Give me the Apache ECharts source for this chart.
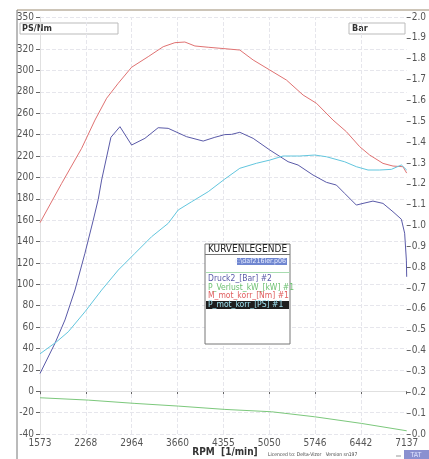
<!DOCTYPE html>
<html><head><meta charset="utf-8">
<script src="https://cdn.jsdelivr.net/npm/echarts@6/dist/echarts.min.js"></script>
<style>html,body{margin:0;padding:0;background:#fff}#c{width:429px;height:459px}</style>
</head><body><div id="c"></div>
<script>
// X tick labels (RPM)
const rpmTicks = [1573, 2268, 2964, 3660, 4355, 5050, 5746, 6442, 7137];
const leftTicks = [-40,-20,0,20,40,60,80,100,120,140,160,180,200,220,240,260,280,300,320,350];

// M_mot_korr [Nm] #1 (left axis)
const rpmNm = [1573,1902,2205,2407,2584,2760,2963,3215,3442,3620,3771,3923,4125,4352,4605,4807,5060,5313,5565,5768,6019,6222,6424,6575,6777,6929,7080,7137];
const valNm = [157.6,194.4,227.2,253.6,274,288,303,312.9,322.2,326,326.6,322.9,321.7,320.5,319.1,309.8,300.4,291,277,269.3,253.6,242.7,228.7,220.9,213.1,210.6,210,204];

// Druck2 [Bar] #2 (right axis)
const rpmBar = [1573,1800,1952,2104,2255,2381,2457,2508,2649,2786,2963,3165,3366,3518,3797,4049,4226,4378,4479,4605,4807,5060,5337,5489,5716,5919,6070,6196,6373,6474,6625,6777,6929,7056,7106,7132,7137];
const valBar = [0.29,0.435,0.547,0.691,0.867,1.026,1.126,1.218,1.423,1.474,1.386,1.418,1.469,1.466,1.426,1.405,1.423,1.436,1.437,1.447,1.418,1.362,1.306,1.29,1.242,1.207,1.194,1.154,1.098,1.106,1.117,1.106,1.066,1.03,0.963,0.834,0.754];

// P_mot_korr [PS] #1 (left axis)
const rpmPS = [1573,1826,2002,2255,2508,2760,3013,3266,3518,3670,3873,4125,4378,4605,4858,5060,5262,5515,5742,5919,6196,6373,6550,6727,6904,7056,7137];
const valPS = [35,46.3,55.6,74.3,94.6,113.3,128.9,144.5,157,169.5,177.2,186.6,198.5,208.5,213.2,216.2,220,220,220.9,219.3,214.6,210,206.9,206.9,207.5,211.6,206.9];

// P_Verlust_kW [kW] #1 (left axis)
const rpmKW = [1573,2305,3013,3670,4378,5086,5742,6450,7137];
const valKW = [-6.1,-8.3,-11.4,-13.9,-17,-19.2,-23.9,-30.1,-37];

const pair = (xs, ys) => xs.map((x, i) => [x, ys[i]]);
const FONT = "'Liberation Sans Narrow', 'DejaVu Sans Condensed', 'Liberation Sans', sans-serif";
const LBL = {color:'#555', fontFamily:FONT, fontSize:10};

const chart = echarts.init(document.getElementById('c'), null, {renderer:'canvas'});
const gridStyle = {color:'#e6e6ec', width:1, type:'dashed'};
chart.setOption({
  animation:false,
  backgroundColor:'#fff',
  grid:{left:40, right:22, top:17, bottom:25},
  xAxis:{type:'value', min:1573, max:7137,
    axisLine:{show:true, lineStyle:{color:'#e0e0e0'}},
    axisTick:{show:true, length:3, customValues:rpmTicks, lineStyle:{color:'#666'}},
    axisLabel:Object.assign({customValues:rpmTicks, margin:4, formatter:v=>String(v)}, LBL),
    splitLine:{show:false}
  },
  yAxis:[
    {type:'value', min:-40, max:350, interval:20, position:'left',
      axisLine:{show:true, lineStyle:{color:'#e0e0e0'}},
      axisTick:{show:true, length:4, customValues:leftTicks, lineStyle:{color:'#666'}},
      axisLabel:Object.assign({customValues:leftTicks, margin:6, formatter:v=>String(v)}, LBL),
      splitLine:{show:true, lineStyle:gridStyle}},
    {type:'value', min:0, max:2, interval:0.1, position:'right',
      axisLine:{show:false},
      axisTick:{show:true, length:4, lineStyle:{color:'#666'}},
      axisLabel:Object.assign({margin:5, formatter:v=>v.toFixed(1)}, LBL),
      splitLine:{show:false}}
  ],
  series:[
    {name:'Druck2_[Bar] #2', type:'line', yAxisIndex:1, showSymbol:false, z:3, data:pair(rpmBar,valBar), lineStyle:{color:'#5a5aa8', width:1}},
    {name:'P_Verlust_kW_[kW] #1', type:'line', showSymbol:false, z:3, data:pair(rpmKW,valKW), lineStyle:{color:'#7cc87c', width:1},
      markLine:{silent:true, symbol:'none', label:{show:false}, z:1,
        lineStyle:gridStyle,
        data:rpmTicks.slice(1, -1).map(v => ({xAxis:v}))}},
    {name:'M_mot_korr_[Nm] #1', type:'line', showSymbol:false, z:3, data:pair(rpmNm,valNm), lineStyle:{color:'#e07272', width:1}},
    {name:'P_mot_korr_[PS] #1', type:'line', showSymbol:false, z:3, data:pair(rpmPS,valPS), lineStyle:{color:'#62c6de', width:1}}
  ],
  graphic:[
    {type:'line', shape:{x1:17,y1:10,x2:429,y2:10}, style:{stroke:'#9a8a70', lineWidth:1}},
    {type:'line', shape:{x1:17,y1:10,x2:17,y2:459}, style:{stroke:'#777', lineWidth:1}},
    {type:'rect', shape:{x:20,y:23,width:98,height:11}, style:{fill:'#fff', stroke:'#bbb', lineWidth:1}},
    {type:'text', left:22, top:24, style:{text:'PS/Nm', font:'bold 9px '+FONT, fill:'#333'}},
    {type:'rect', shape:{x:349,y:23,width:56,height:11}, style:{fill:'#fff', stroke:'#bbb', lineWidth:1}},
    {type:'text', left:352, top:24, style:{text:'Bar', font:'bold 9px '+FONT, fill:'#333'}},
    // legend box
    {type:'rect', z:10, shape:{x:205,y:244,width:85,height:100}, style:{fill:'#fff', stroke:'#777', lineWidth:1}},
    {type:'line', z:11, shape:{x1:205,y1:254.5,x2:290,y2:254.5}, style:{stroke:'#777', lineWidth:1}},
    {type:'text', z:11, x:247.5, y:249.5, style:{text:'KURVENLEGENDE', font:'10px '+FONT, fill:'#222', align:'center', verticalAlign:'middle'}},
    {type:'rect', z:11, shape:{x:237,y:258,width:50,height:7}, style:{fill:'#6f86d0'}},
    {type:'text', z:12, x:286, y:261.5, style:{text:'c:\\daf216ler.p06', font:'7px '+FONT, fill:'#e8ecff', align:'right', verticalAlign:'middle'}},
    {type:'line', z:11, shape:{x1:206,y1:272.5,x2:290,y2:272.5}, style:{stroke:'#a8dcb0', lineWidth:1.2}},
    {type:'text', z:11, x:208, y:278.5, style:{text:'Druck2_[Bar] #2', font:'8.5px '+FONT, fill:'#5a5aa8', verticalAlign:'middle'}},
    {type:'text', z:11, x:208, y:287.5, style:{text:'P_Verlust_kW_[kW] #1', font:'8.5px '+FONT, fill:'#6cc070', verticalAlign:'middle'}},
    {type:'text', z:11, x:208, y:296, style:{text:'M_mot_korr_[Nm] #1', font:'8.5px '+FONT, fill:'#e06060', verticalAlign:'middle'}},
    {type:'rect', z:11, shape:{x:206,y:301,width:83,height:8}, style:{fill:'#1e1e1e'}},
    {type:'text', z:12, x:208, y:305, style:{text:'P_mot_korr_[PS] #1', font:'8.5px '+FONT, fill:'#9fe0ee', verticalAlign:'middle'}},
    // axis title and footer
    {type:'text', x:225, y:452, style:{text:'RPM  [1/min]', font:'bold 10px '+FONT, fill:'#333', align:'center', verticalAlign:'middle'}},
    {type:'text', x:268, y:454.5, style:{text:'Licenced to: Delta-Vizor   Version sn197', font:'5px '+FONT, fill:'#444', verticalAlign:'middle'}},
    {type:'rect', shape:{x:404,y:450,width:25,height:9}, style:{fill:'#8a90d0'}},
    {type:'text', x:416, y:455, style:{text:'TAT', font:'7px '+FONT, fill:'#e0e4ff', align:'center', verticalAlign:'middle'}},
    {type:'line', shape:{x1:396,y1:456,x2:401,y2:456}, style:{stroke:'#999', lineWidth:1}}
  ]
});
</script></body></html>
